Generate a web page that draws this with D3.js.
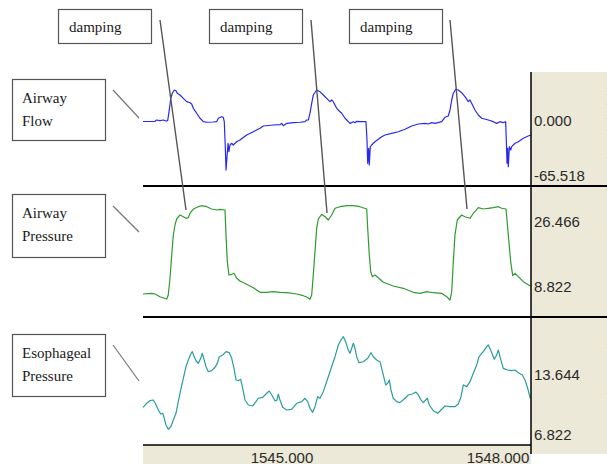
<!DOCTYPE html>
<html>
<head>
<meta charset="utf-8">
<script src="https://cdn.jsdelivr.net/npm/d3@7"></script>
<style>
  html, body { margin: 0; padding: 0; background: #fff; }
  svg { display: block; }
  .tick-label { font-family: "Liberation Sans", Arial, sans-serif; font-size: 15px; fill: #2a2a2a; }
  .note { font-family: "Liberation Serif", "Times New Roman", serif; font-size: 15px; fill: #1a1a1a; }
</style>
</head>
<body>
<div id="chart"></div>
<script>
// time stamps (s) and values
var flowData = [
  [1543.056,-0.5],[1543.223,-0.3],[1543.246,1.0],[1543.292,0.3],[1543.338,1.0],[1543.375,0],[1543.399,0.3],
  [1543.421,11.3],[1543.441,23.2],[1543.463,28.4],[1543.491,31.7],[1543.514,31.0],[1543.532,28.4],[1543.570,26.6],
  [1543.616,23.2],[1543.663,19.8],[1543.709,18.7],[1543.732,17.4],[1543.755,13.0],[1543.802,7.9],[1543.848,2.8],
  [1543.894,-0.7],[1543.941,-1.3],[1544.032,-1.0],[1544.080,-0.7],[1544.102,2.8],[1544.149,4.4],[1544.171,3.8],
  [1544.185,-0.7],[1544.199,-26.3],[1544.209,-50.2],[1544.223,-36.5],[1544.237,-22.8],[1544.250,-31.4],[1544.264,-24.6],
  [1544.288,-22.8],[1544.310,-24.6],[1544.357,-21.2],[1544.403,-19.5],[1544.496,-14.3],[1544.588,-11.0],[1544.681,-7.5],
  [1544.727,-5.1],[1544.866,-4.1],[1544.959,-3.8],[1544.982,-2.4],[1545.005,-4.8],[1545.052,-2.4],[1545.144,-1.7],
  [1545.237,-1.3],[1545.306,-0.7],[1545.330,1.0],[1545.352,1.0],[1545.375,7.9],[1545.399,18.1],[1545.421,26.6],
  [1545.468,31.7],[1545.514,30.0],[1545.560,26.6],[1545.607,23.2],[1545.653,19.8],[1545.677,21.5],[1545.699,19.8],
  [1545.746,13.0],[1545.792,9.5],[1545.816,7.9],[1545.862,2.8],[1545.931,-2.4],[1545.977,-0.7],[1546.000,-1.7],
  [1546.024,-0.3],[1546.070,-0.7],[1546.153,-0.7],[1546.167,-19.5],[1546.177,-43.3],[1546.191,-27.9],[1546.199,-45.0],
  [1546.213,-26.3],[1546.232,-24.6],[1546.255,-22.8],[1546.278,-21.2],[1546.324,-18.7],[1546.371,-16.1],[1546.417,-14.3],
  [1546.510,-12.6],[1546.602,-11.0],[1546.695,-8.5],[1546.788,-5.1],[1546.880,-3.1],[1546.973,-2.4],[1547.019,-3.1],
  [1547.066,-1.7],[1547.112,-2.4],[1547.205,-0.7],[1547.250,3.8],[1547.296,5.1],[1547.320,11.3],[1547.344,21.5],
  [1547.366,28.4],[1547.399,32.5],[1547.435,31.7],[1547.482,29.0],[1547.528,24.9],[1547.574,19.8],[1547.598,21.5],
  [1547.621,18.1],[1547.667,11.3],[1547.713,6.1],[1547.760,2.8],[1547.852,1.0],[1547.921,-0.7],[1547.968,-2.4],
  [1548.014,-0.7],[1548.060,-1.7],[1548.093,-0.7],[1548.102,-19.5],[1548.112,-43.3],[1548.121,-27.9],[1548.130,-46.8],
  [1548.144,-26.3],[1548.163,-29.7],[1548.177,-26.3],[1548.223,-22.8],[1548.269,-21.2],[1548.338,-17.7],[1548.407,-15.4],
  [1548.445,-14.3]
];

var pawData = [
  [1543.056,6.92],[1543.177,7.11],[1543.223,6.92],[1543.292,6.19],[1543.385,5.56],[1543.407,6.65],[1543.431,11.18],
  [1543.455,17.51],[1543.477,22.94],[1543.500,25.65],[1543.524,27.28],[1543.570,28.37],[1543.616,27.90],[1543.653,27.47],
  [1543.685,27.63],[1543.709,28.83],[1543.755,29.99],[1543.824,30.62],[1543.871,30.89],[1543.941,30.62],[1544.010,29.99],
  [1544.080,29.72],[1544.125,29.91],[1544.195,29.72],[1544.209,22.94],[1544.227,15.69],[1544.250,12.08],[1544.288,12.27],
  [1544.320,12.54],[1544.357,11.18],[1544.403,10.45],[1544.496,9.56],[1544.588,8.63],[1544.681,7.38],[1544.774,7.38],
  [1544.866,7.55],[1544.959,7.38],[1545.052,7.27],[1545.191,6.92],[1545.282,6.46],[1545.330,6.11],[1545.375,5.48],
  [1545.399,6.65],[1545.421,12.08],[1545.445,18.40],[1545.468,24.76],[1545.491,27.28],[1545.538,28.56],[1545.584,27.90],
  [1545.630,27.01],[1545.677,28.37],[1545.723,30.19],[1545.792,30.62],[1545.885,30.89],[1545.977,30.89],[1546.070,30.62],
  [1546.163,29.99],[1546.177,24.76],[1546.199,17.51],[1546.219,12.97],[1546.241,11.62],[1546.278,12.08],[1546.324,11.35],
  [1546.394,10.10],[1546.532,9.09],[1546.671,8.47],[1546.810,7.38],[1546.903,7.11],[1546.996,7.55],[1547.088,7.27],
  [1547.205,7.11],[1547.274,6.19],[1547.320,5.29],[1547.344,7.55],[1547.366,15.69],[1547.389,22.94],[1547.421,27.01],
  [1547.482,28.37],[1547.528,27.90],[1547.598,27.47],[1547.644,28.83],[1547.713,30.35],[1547.782,29.99],[1547.852,30.19],
  [1547.921,30.35],[1547.991,30.62],[1548.038,30.19],[1548.098,29.99],[1548.130,22.94],[1548.163,15.69],[1548.191,11.89],
  [1548.223,12.54],[1548.269,11.62],[1548.338,10.26],[1548.431,9.17],[1548.445,9.09]
];

var pesData = [
  [1543.056,10.03],[1543.107,10.48],[1543.153,10.77],[1543.199,10.85],[1543.232,10.40],[1543.269,9.73],[1543.302,9.28],
  [1543.330,9.36],[1543.348,8.91],[1543.375,8.05],[1543.407,7.57],[1543.441,7.86],[1543.477,8.61],[1543.514,9.36],
  [1543.546,10.66],[1543.580,11.97],[1543.616,13.28],[1543.653,14.57],[1543.685,15.32],[1543.719,15.99],[1543.741,16.25],
  [1543.764,15.77],[1543.792,15.24],[1543.824,14.95],[1543.857,15.51],[1543.880,16.07],[1543.903,15.40],[1543.931,14.57],
  [1543.963,14.01],[1544.010,14.13],[1544.056,14.51],[1544.088,14.95],[1544.116,15.69],[1544.163,15.88],[1544.209,16.25],
  [1544.255,16.14],[1544.288,15.51],[1544.320,14.39],[1544.348,13.09],[1544.380,13.01],[1544.413,13.16],[1544.441,12.16],
  [1544.473,10.85],[1544.519,10.29],[1544.580,10.18],[1544.625,10.66],[1544.657,11.04],[1544.719,11.15],[1544.774,11.60],
  [1544.810,11.85],[1544.844,11.41],[1544.889,10.77],[1544.913,10.77],[1544.935,11.49],[1544.959,10.85],[1544.996,10.03],
  [1545.052,9.73],[1545.121,9.81],[1545.191,10.48],[1545.260,10.66],[1545.306,11.04],[1545.344,10.66],[1545.375,9.92],
  [1545.413,9.47],[1545.445,10.10],[1545.482,11.22],[1545.514,11.04],[1545.560,11.78],[1545.630,13.45],[1545.699,15.13],
  [1545.723,15.69],[1545.769,17.00],[1545.806,17.56],[1545.838,17.93],[1545.871,17.37],[1545.907,16.44],[1545.931,16.07],
  [1545.955,16.63],[1545.977,17.19],[1546.000,16.63],[1546.024,15.69],[1546.056,15.02],[1546.116,15.13],[1546.177,15.51],
  [1546.223,16.14],[1546.255,15.69],[1546.302,15.32],[1546.348,15.13],[1546.394,13.64],[1546.427,12.53],[1546.455,12.72],
  [1546.477,13.09],[1546.500,11.97],[1546.532,11.04],[1546.580,10.66],[1546.625,10.55],[1546.695,11.04],[1546.741,11.41],
  [1546.796,11.52],[1546.848,11.74],[1546.880,11.41],[1546.917,10.85],[1546.949,10.55],[1546.982,10.85],[1547.005,11.04],
  [1547.032,10.29],[1547.088,9.65],[1547.149,9.36],[1547.195,9.73],[1547.250,10.18],[1547.320,10.10],[1547.389,10.10],
  [1547.435,10.40],[1547.473,11.22],[1547.505,12.53],[1547.552,12.34],[1547.598,12.90],[1547.644,13.83],[1547.691,14.76],
  [1547.723,15.69],[1547.782,16.25],[1547.830,16.81],[1547.852,17.00],[1547.889,16.36],[1547.935,15.40],[1547.968,15.88],
  [1547.991,16.44],[1548.014,15.69],[1548.060,14.39],[1548.121,14.20],[1548.177,14.13],[1548.223,14.20],[1548.269,13.90],
  [1548.324,13.64],[1548.362,13.09],[1548.399,12.16],[1548.435,11.04]
];

// axis labels
var timeTicks = [1545, 1548];
var flowTicks = [0, -65.518];
var pawTicks = [26.466, 8.822];
var pesTicks = [13.644, 6.822];
var channelNames = [["Airway", "Flow"], ["Airway", "Pressure"], ["Esophageal", "Pressure"]];
var unitNames = ["Flow (L/min)", "Paw (cmH2O)", "Pes (cmH2O)"];
var noteText = "damping";

var width = 607, height = 464;
var plotLeft = 143, plotRight = 531;
var beige = "#ece9d8";

var svg = d3.select("#chart").append("svg")
  .attr("width", width)
  .attr("height", height);

// time scale shared by all three strips
var x = d3.scaleLinear().domain([1543.056, 1548.445]).range([plotLeft, plotRight]);

// plain hyphen for negative numbers, as on the monitor
var fmt = function(v) { return v.toFixed(3); };

// one strip per channel: scale, data, colour, strip bounds
var strips = [
  {data: flowData, ticks: flowTicks, color: "#2828f0", top: 72, bottom: 186,
   y: d3.scaleLinear().domain([-65.518, 0]).range([185, 121])},
  {data: pawData, ticks: pawTicks, color: "#2f9a2f", top: 186, bottom: 317,
   y: d3.scaleLinear().domain([8.822, 26.466]).range([287, 222])},
  {data: pesData, ticks: pesTicks, color: "#2a9c9c", top: 317, bottom: 445,
   y: d3.scaleLinear().domain([6.822, 13.644]).range([436, 375])}
];

// beige value panel on the right and time strip at the bottom
svg.append("rect")
  .attr("x", plotRight).attr("y", 72)
  .attr("width", width - plotRight).attr("height", 454 - 72)
  .style("fill", beige);

svg.append("rect")
  .attr("x", plotLeft).attr("y", 445)
  .attr("width", plotRight - plotLeft).attr("height", height - 445)
  .style("fill", beige);

// traces
strips.forEach(function(s) {
  var line = d3.line()
    .x(function(d) { return x(d[0]); })
    .y(function(d) { return s.y(d[1]); });

  svg.append("path")
    .datum(s.data)
    .attr("d", line)
    .style("fill", "none")
    .style("stroke", s.color)
    .style("stroke-width", 1.2)
    .style("stroke-linejoin", "round");

  // value labels in the right panel
  svg.selectAll(null)
    .data(s.ticks)
    .enter().append("text")
    .attr("class", "tick-label")
    .attr("x", plotRight + 3)
    .attr("y", function(d) { return Math.min(s.y(d) + 5, s.bottom - 5); })
    .text(fmt);
});

// unit labels, only a sliver shows at the window edge
unitNames.forEach(function(name, i) {
  var s = strips[i];
  var cy = s.y(s.ticks[0]) + 8;
  svg.append("text")
    .attr("class", "tick-label")
    .attr("transform", "translate(618," + cy + ") rotate(-90)")
    .attr("text-anchor", "middle")
    .style("font-size", "14px")
    .text(name);
});

// strip separators
[186, 317].forEach(function(yy) {
  svg.append("line")
    .attr("x1", plotLeft).attr("x2", width)
    .attr("y1", yy).attr("y2", yy)
    .style("stroke", "#000").style("stroke-width", 2);
});

svg.append("line")
  .attr("x1", plotLeft).attr("x2", plotRight)
  .attr("y1", 445).attr("y2", 445)
  .style("stroke", "#000").style("stroke-width", 1.5);

svg.append("line")
  .attr("x1", plotRight).attr("x2", plotRight)
  .attr("y1", 72).attr("y2", 454)
  .style("stroke", "#000").style("stroke-width", 1.5);

// time labels
svg.selectAll(null)
  .data(timeTicks)
  .enter().append("text")
  .attr("class", "tick-label")
  .attr("x", function(d) { return x(d) - 1; })
  .attr("y", 463)
  .attr("text-anchor", "middle")
  .text(fmt);

// channel name boxes with their pointer lines
var nameBoxes = [
  {y: 79, h: 61, line: [113, 90, 139, 118]},
  {y: 194, h: 63, line: [113, 206, 139, 232]},
  {y: 334, h: 62, line: [113, 345, 139, 381]}
];

nameBoxes.forEach(function(b, i) {
  svg.append("rect")
    .attr("x", 12.5).attr("y", b.y + 0.5)
    .attr("width", 93).attr("height", b.h)
    .style("fill", "#fff").style("stroke", "#555").style("stroke-width", 1.2);

  svg.append("text").attr("class", "note")
    .attr("x", 22).attr("y", b.y + 24)
    .text(channelNames[i][0]);

  svg.append("text").attr("class", "note")
    .attr("x", 22).attr("y", b.y + 47)
    .text(channelNames[i][1]);

  svg.append("line")
    .attr("x1", b.line[0]).attr("y1", b.line[1])
    .attr("x2", b.line[2]).attr("y2", b.line[3])
    .style("stroke", "#777").style("stroke-width", 1.2);
});

// "damping" notes: box at the top, line down to the pressure plateau
var noteBoxes = [
  {x: 58, lineTop: [160, 20], lineEnd: [186, 210]},
  {x: 209, lineTop: [311, 20], lineEnd: [327, 213]},
  {x: 349, lineTop: [450, 20], lineEnd: [467, 209]}
];

noteBoxes.forEach(function(b) {
  svg.append("rect")
    .attr("x", b.x + 0.5).attr("y", 9.5)
    .attr("width", 93).attr("height", 34)
    .style("fill", "#fff").style("stroke", "#555").style("stroke-width", 1.2);

  svg.append("text").attr("class", "note")
    .attr("x", b.x + 11).attr("y", 32)
    .text(noteText);

  svg.append("line")
    .attr("x1", b.lineTop[0]).attr("y1", b.lineTop[1])
    .attr("x2", b.lineEnd[0]).attr("y2", b.lineEnd[1])
    .style("stroke", "#555").style("stroke-width", 1.4);
});
</script>
</body>
</html>
